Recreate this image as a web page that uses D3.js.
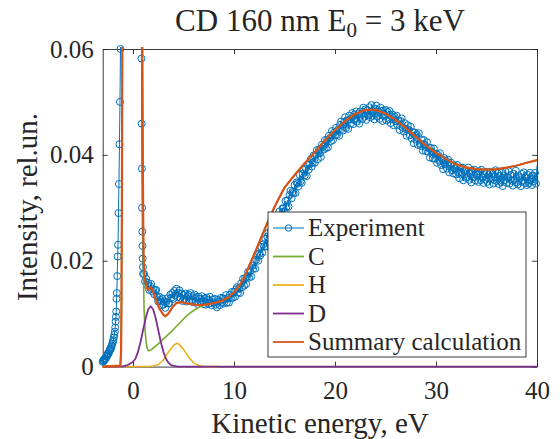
<!DOCTYPE html>
<html>
<head>
<meta charset="utf-8">
<script src="https://cdn.jsdelivr.net/npm/d3@7"></script>
<style>
  body { margin: 0; background: #fff; }
  svg, svg text { font-family: "Liberation Serif", "DejaVu Serif", serif; }
  svg text { fill: #262626; }
</style>
</head>
<body>
<svg id="chart" width="560" height="439"></svg>
<script>
// ---- data ----
const xTicks = [0, 10, 20, 30, 40];
const yTicks = [0, 0.02, 0.04, 0.06];
const yTickLabels = ["0", "0.02", "0.04", "0.06"];
const legendNames = ["Experiment", "C", "H", "D", "Summary calculation"];

// experiment, steep part around the elastic peak (points above 0.06 are off the axes)
const expSteepE = [-3.0,-2.95,-2.9,-2.85,-2.8,-2.75,-2.7,-2.65,-2.6,-2.55,-2.5,-2.45,-2.4,-2.35,-2.3,-2.25,-2.2,-2.15,-2.1,-2.05,-2.0,-1.95,-1.9,-1.85,-1.8,
  -1.76,-1.72,-1.69,-1.66,-1.63,-1.6,-1.56,-1.52,-1.48,-1.44,-1.39,-1.34,-1.29,-1.24,-1.18,-1.0,0,0.8,
  0.84,0.86,0.88,0.9,0.92,0.94,0.96,0.98,1.0];
const expSteepI = [.0009,.0012,.0010,.0014,.0013,.0016,.0015,.0019,.0021,.0020,.0024,.0026,.0025,.0029,.0031,.0034,.0033,.0037,.0040,.0043,.0047,.0050,.0055,.0060,.0066,
  .0074,.0085,.0094,.0104,.0128,.0139,.0171,.0208,.0230,.0290,.0345,.0420,.0500,.0600,.0720,.12,.5,.09,
  .0582,.0459,.0374,.0300,.0255,.0228,.0204,.0188,.0175];

// experiment, regular 0.1 eV grid from 1.1 to 40 eV
const expGridStart = 1.1, expGridStep = 0.1;
const expGridI = [
  .0175,.0161,.0166,.0154,.0158,.0145,.0152,.0156,.0142,.0146,
  .0137,.0144,.0145,.0131,.0123,.0132,.0126,.0116,.0129,.0117,
  .0123,.0111,.0122,.0129,.0119,.0120,.0136,.0130,.0139,.0128,
  .0143,.0135,.0147,.0131,.0139,.0144,.0130,.0138,.0124,.0135,
  .0128,.0138,.0123,.0133,.0136,.0125,.0139,.0126,.0122,.0133,
  .0136,.0122,.0131,.0118,.0132,.0128,.0122,.0133,.0124,.0118,
  .0129,.0117,.0130,.0126,.0119,.0132,.0120,.0116,.0127,.0121,
  .0128,.0117,.0112,.0126,.0123,.0116,.0130,.0121,.0129,.0119,
  .0128,.0135,.0121,.0130,.0121,.0136,.0129,.0141,.0130,.0141,
  .0132,.0146,.0150,.0140,.0148,.0139,.0157,.0150,.0166,.0153,
  .0167,.0156,.0170,.0179,.0168,.0180,.0170,.0190,.0185,.0198,
  .0185,.0202,.0212,.0200,.0213,.0210,.0226,.0215,.0231,.0227,
  .0241,.0227,.0245,.0253,.0242,.0253,.0247,.0269,.0258,.0270,
  .0263,.0280,.0265,.0283,.0293,.0283,.0281,.0299,.0299,.0293,
  .0313,.0302,.0314,.0302,.0324,.0332,.0318,.0330,.0328,.0343,
  .0328,.0348,.0346,.0341,.0362,.0350,.0347,.0364,.0372,.0361,
  .0374,.0360,.0381,.0372,.0382,.0392,.0378,.0385,.0399,.0385,
  .0400,.0409,.0392,.0409,.0403,.0396,.0419,.0415,.0410,.0428,
  .0413,.0427,.0414,.0436,.0432,.0426,.0445,.0428,.0442,.0437,
  .0451,.0438,.0448,.0436,.0457,.0463,.0449,.0446,.0462,.0471,
  .0451,.0465,.0449,.0474,.0467,.0460,.0479,.0458,.0476,.0467,
  .0482,.0463,.0478,.0459,.0482,.0477,.0468,.0489,.0472,.0486,
  .0466,.0484,.0475,.0490,.0471,.0494,.0474,.0482,.0467,.0487,
  .0493,.0473,.0481,.0468,.0489,.0483,.0464,.0484,.0473,.0485,
  .0465,.0481,.0468,.0483,.0460,.0473,.0476,.0456,.0472,.0464,
  .0474,.0456,.0464,.0447,.0464,.0469,.0451,.0444,.0460,.0449,
  .0436,.0456,.0447,.0437,.0453,.0431,.0443,.0422,.0442,.0436,
  .0439,.0419,.0441,.0422,.0417,.0428,.0408,.0428,.0419,.0407,
  .0424,.0406,.0413,.0395,.0413,.0406,.0393,.0412,.0393,.0402,
  .0385,.0400,.0389,.0403,.0381,.0392,.0373,.0394,.0382,.0389,
  .0374,.0391,.0367,.0381,.0385,.0371,.0365,.0380,.0374,.0363,
  .0381,.0366,.0356,.0376,.0366,.0376,.0352,.0370,.0357,.0371,
  .0358,.0376,.0353,.0366,.0348,.0370,.0358,.0372,.0352,.0362,
  .0365,.0349,.0369,.0352,.0372,.0357,.0347,.0364,.0353,.0368,
  .0349,.0362,.0344,.0368,.0354,.0364,.0346,.0359,.0371,.0351,
  .0365,.0345,.0360,.0349,.0366,.0341,.0361,.0352,.0368,.0347,
  .0358,.0369,.0346,.0362,.0351,.0342,.0364,.0353,.0370,.0348,
  .0344,.0360,.0356,.0341,.0364,.0351,.0367,.0347,.0358,.0343,
  .0362,.0346,.0366,.0352,.0343,.0361,.0350,.0366,.0346,.0380];

// summary calculation
const sumE = [-3,-1.25,-1.18,-1.14,-1.10,-1.06,-1.0,0,0.85,0.92,0.97,1.01,1.05,1.1,1.2,1.35,1.5,1.7,1.9,2.2,2.6,3.0,3.2,3.5,3.9,4.3,4.7,5.2,5.8,6.5,7.2,8.0,8.8,9.5,
  10,10.5,11,11.5,12,12.5,13,13.5,14,14.5,15,16,17,18,19,20,21,22,23,24,25,26,27,28,29,30,31,32,33,34,35,36,37,38,39,40];
const sumI = [0,.0002,.003,.012,.03,.06,.1,.6,.1,.06,.04,.028,.021,.018,.0162,.0150,.0144,.0150,.0146,.0130,.0110,.0098,.0095,.0100,.0112,.0120,.0122,.0120,.0118,.0116,.0117,.0120,.0124,.0132,
  .0140,.0152,.0168,.0190,.0212,.0235,.0258,.0280,.0301,.0320,.0338,.0362,.0384,.0405,.0427,.0447,.0464,.0477,.0485,.0485,.0478,.0466,.0451,.0434,.0418,.0404,.0392,.0382,.0376,.0373,.0372,.0373,.0376,.0380,.0385,.0390];

// C component
const cE = [-3,-1.25,-1.18,-1.14,-1.10,-1.06,-1.0,0,0.85,0.92,0.97,1.01,1.05,1.1,1.2,1.3,1.4,1.5,1.75,2.0,2.5,3.0,3.5,4.0,4.5,5.0,5.5,6.0,6.5,7.0,7.5,8.0,8.8,9.5,
  10,10.5,11,11.5,12,12.5,13,13.5,14,14.5,15,16,17,18,19,20,21,22,23,24,25,26,27,28,29,30,31,32,33,34,35,36,37,38,39,40];
const cI = [0,.0002,.003,.012,.03,.06,.1,.6,.1,.06,.04,.026,.016,.0105,.0068,.0046,.0035,.0030,.0031,.0035,.0043,.0052,.0061,.0070,.0080,.0090,.0099,.0106,.0112,.0116,.0118,.0120,.0124,.0132,
  .0140,.0152,.0168,.0190,.0212,.0235,.0258,.0280,.0301,.0320,.0338,.0362,.0384,.0405,.0427,.0447,.0464,.0477,.0485,.0485,.0478,.0466,.0451,.0434,.0418,.0404,.0392,.0382,.0376,.0373,.0372,.0373,.0376,.0380,.0385,.0390];

// H component
const hE = [-3,1.5,2.0,2.5,3.0,3.5,4.0,4.35,4.5,5.0,5.5,6.0,6.5,7.0,7.5,8.5];
const hI = [0,.00002,.0001,.0004,.00125,.0027,.0040,.0044,.0043,.0033,.0018,.0007,.0002,.00003,0,0];

// D component
const dE = [-3,-1.5,-1,-0.5,0,0.25,0.5,0.75,1.0,1.25,1.5,1.75,2.0,2.25,2.5,2.75,3.0,3.25,3.5,3.75,4.0,4.5,5,40];
const dI = [0,0,.00005,.0003,.0009,.00154,.00284,.00469,.00692,.00913,.01078,.0114,.01078,.00913,.00692,.00469,.00284,.00154,.00075,.00032,.00012,.00001,0,0];

// ---- drawing ----
const serif = "'Liberation Serif', 'DejaVu Serif', serif";
const svg = d3.select("#chart");
const axisColor = "#262626";

const x = d3.scaleLinear().domain([-3, 40]).range([102.7, 537]);
const y = d3.scaleLinear().domain([0, 0.06]).range([366.6, 49]);

const zip = (e, v) => e.map((d, i) => [d, v[i]]);
const expPts = zip(expSteepE, expSteepI)
  .concat(expGridI.map((v, i) => [expGridStart + i * expGridStep, v]));

// axes (box with inward ticks on all sides)
function styleAxis(g) {
  g.attr("font-family", serif).attr("font-size", 25);
  g.selectAll("path").attr("stroke", axisColor).attr("stroke-width", 0.9);
  g.selectAll("line").attr("stroke", axisColor).attr("stroke-width", 0.9);
  g.selectAll("text").attr("fill", axisColor).attr("font-family", serif).attr("font-size", 25);
}
svg.append("g").attr("transform", "translate(0," + y(0) + ")")
  .call(d3.axisBottom(x).tickValues(xTicks).tickSizeInner(-5).tickSizeOuter(0).tickPadding(14.5).tickFormat(d3.format("d")))
  .call(styleAxis);
svg.append("g").attr("transform", "translate(0," + y(0.06) + ")")
  .call(d3.axisTop(x).tickValues(xTicks).tickSizeInner(-5).tickSizeOuter(0).tickFormat(""))
  .call(styleAxis);
svg.append("g").attr("transform", "translate(" + x(-3) + ",0)")
  .call(d3.axisLeft(y).tickValues(yTicks).tickSizeInner(-5).tickSizeOuter(0).tickPadding(9)
    .tickFormat((d, i) => yTickLabels[i]))
  .call(styleAxis);
svg.append("g").attr("transform", "translate(" + x(40) + ",0)")
  .call(d3.axisRight(y).tickValues(yTicks).tickSizeInner(-5).tickSizeOuter(0).tickFormat(""))
  .call(styleAxis);

// clip for lines
svg.append("clipPath").attr("id", "plotclip").append("rect")
  .attr("x", x(-3) - 2).attr("y", y(0.06) - 2)
  .attr("width", x(40) - x(-3) + 4).attr("height", y(0) - y(0.06) + 4);

const line = d3.line().x(d => x(d[0])).y(d => y(d[1]));
const plot = svg.append("g");

// experiment: thin line plus open circles
plot.append("path").datum(expPts).attr("clip-path", "url(#plotclip)")
  .attr("d", line).attr("fill", "none").attr("stroke", "#0072BD").attr("stroke-width", 1);
plot.append("g").selectAll("circle")
  .data(expPts.filter(d => d[0] >= -3 && d[0] <= 40 && d[1] >= 0 && d[1] <= 0.06))
  .join("circle")
  .attr("cx", d => x(d[0])).attr("cy", d => y(d[1])).attr("r", 3.5)
  .attr("fill", "none").attr("stroke", "#0072BD").attr("stroke-width", 1);

const series = [
  { pts: zip(cE, cI), color: "#77AC30", w: 1.6 },
  { pts: zip(hE, hI), color: "#EDB120", w: 1.6 },
  { pts: zip(dE, dI), color: "#7E2F8E", w: 1.8 },
  { pts: zip(sumE, sumI), color: "#D95319", w: 2.2 }
];
series.forEach(s => {
  plot.append("path").datum(s.pts).attr("clip-path", "url(#plotclip)")
    .attr("d", line).attr("fill", "none").attr("stroke", s.color)
    .attr("stroke-width", s.w).attr("stroke-linejoin", "round");
});

// title and axis labels
const title = svg.append("text").attr("x", 320).attr("y", 31).attr("text-anchor", "middle")
  .attr("font-family", serif).attr("font-size", 31);
title.append("tspan").text("CD 160 nm E");
title.append("tspan").attr("dy", 6).attr("font-size", 21).text("0");
title.append("tspan").attr("dy", -6).text(" = 3 keV");

svg.append("text").attr("x", 320).attr("y", 433).attr("text-anchor", "middle")
  .attr("font-family", serif).attr("font-size", 29).text("Kinetic energy, eV");
svg.append("text").attr("transform", "translate(37,207) rotate(-90)").attr("text-anchor", "middle")
  .attr("font-family", serif).attr("font-size", 29).text("Intensity, rel.un.");

// legend
const legendColors = ["#0072BD", "#77AC30", "#EDB120", "#7E2F8E", "#D95319"];
const leg = svg.append("g");
leg.append("rect").attr("x", 268).attr("y", 212).attr("width", 258).attr("height", 145)
  .attr("fill", "#fff").attr("stroke", axisColor).attr("stroke-width", 0.9);
legendNames.forEach((name, i) => {
  const cy = 228 + i * 28.5;
  leg.append("line").attr("x1", 273).attr("x2", 304).attr("y1", cy).attr("y2", cy)
    .attr("stroke", legendColors[i]).attr("stroke-width", i === 0 ? 1 : 1.8);
  if (i === 0) {
    leg.append("circle").attr("cx", 288.5).attr("cy", cy).attr("r", 3.2)
      .attr("fill", "none").attr("stroke", legendColors[i]).attr("stroke-width", 1);
  }
  leg.append("text").attr("x", 308).attr("y", cy + 8).attr("font-family", serif)
    .attr("font-size", 25).text(name);
});
</script>
</body>
</html>
